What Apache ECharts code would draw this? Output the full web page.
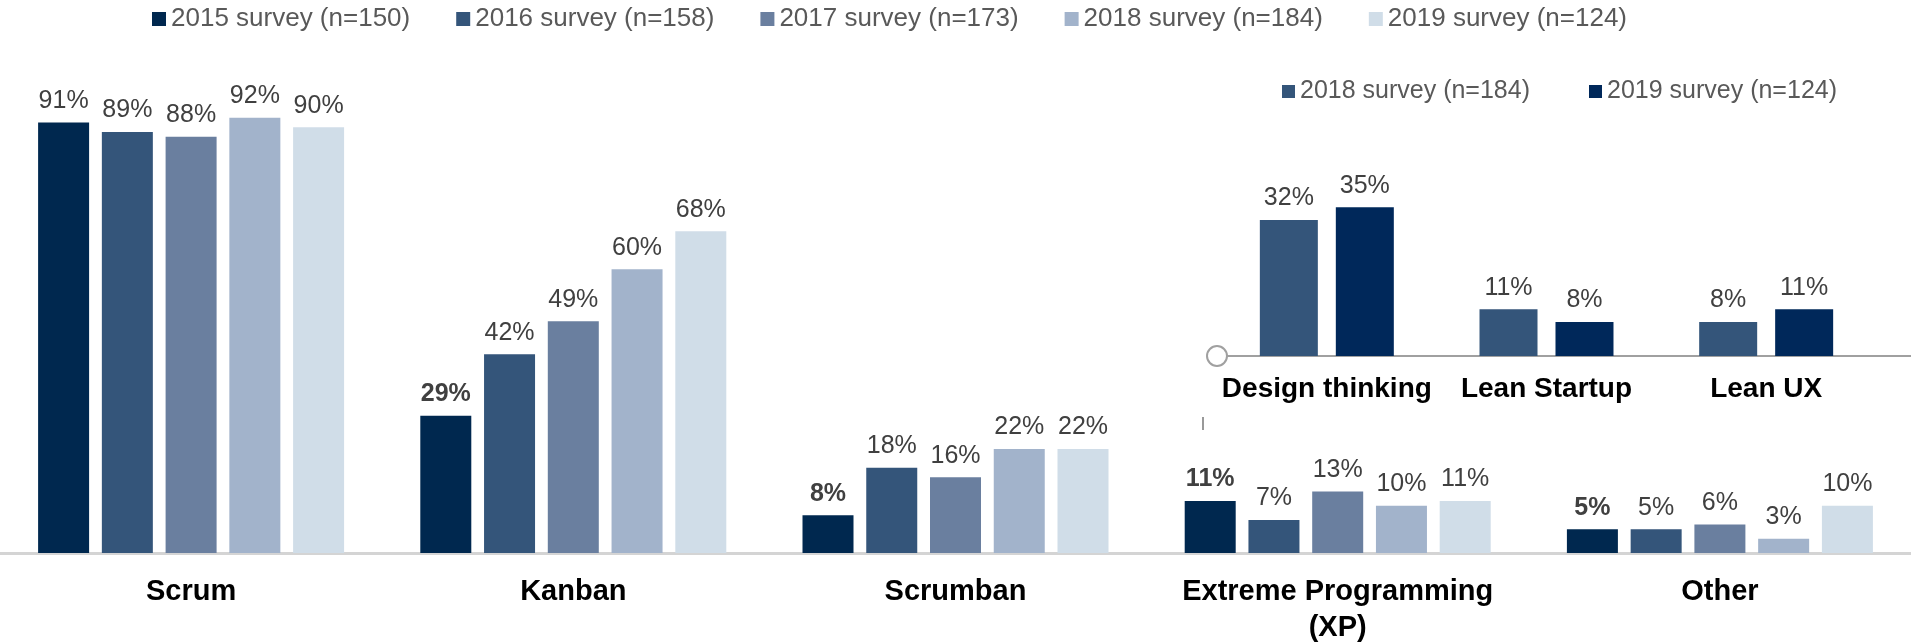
<!DOCTYPE html>
<html>
<head>
<meta charset="utf-8">
<script src="https://cdn.jsdelivr.net/npm/echarts@6/dist/echarts.min.js"></script>
<style>
  html, body { margin: 0; padding: 0; background: #fff; }
  #main { width: 1911px; height: 642px; }
</style>
</head>
<body>
<div id="main"></div>
<script>
// main chart data
var categories = ['Scrum', 'Kanban', 'Scrumban', 'Extreme Programming\n(XP)', 'Other'];
var surveys = ['2015 survey (n=150)', '2016 survey (n=158)', '2017 survey (n=173)', '2018 survey (n=184)', '2019 survey (n=124)'];
var s2015 = [91, 29, 8, 11, 5];
var s2016 = [89, 42, 18, 7, 5];
var s2017 = [88, 49, 16, 13, 6];
var s2018 = [92, 60, 22, 10, 3];
var s2019 = [90, 68, 22, 11, 10];

// inset chart data
var insetCategories = ['Design thinking', 'Lean Startup', 'Lean UX'];
var insetSurveys = ['2018 survey (n=184)', '2019 survey (n=124)'];
var inset2018 = [32, 11, 8];
var inset2019 = [35, 8, 11];

var colors = ['#00284f', '#34557a', '#6a7f9f', '#a2b3cb', '#d0dde8'];
var insetColors = ['#34557a', '#00285a'];
var FONT = '"Liberation Sans", Arial, sans-serif';

var chart = echarts.init(document.getElementById('main'));

var mainValues = [s2015, s2016, s2017, s2018, s2019];
var series = mainValues.map(function (vals, i) {
    return {
        name: surveys[i],
        type: 'bar',
        xAxisIndex: 0,
        yAxisIndex: 0,
        barWidth: 51,
        barGap: '25%',
        itemStyle: { color: colors[i] },
        label: {
            show: true,
            position: 'top',
            distance: 9,
            formatter: '{c}%',
            fontFamily: FONT,
            fontSize: 25,
            color: '#404040'
        },
        // 2015 labels are bold except in the first group
        data: vals.map(function (v, j) {
            if (i === 0 && j > 0) {
                return { value: v, label: { fontWeight: 'bold' } };
            }
            return v;
        })
    };
});

var insetValues = [inset2018, inset2019];
insetValues.forEach(function (vals, i) {
    series.push({
        name: 'inset ' + insetSurveys[i],
        type: 'bar',
        xAxisIndex: 1,
        yAxisIndex: 1,
        barWidth: 58,
        barGap: '31%',
        itemStyle: { color: insetColors[i] },
        label: {
            show: true,
            position: 'top',
            distance: 9,
            formatter: '{c}%',
            fontFamily: FONT,
            fontSize: 25,
            color: '#404040'
        },
        data: vals
    });
});

chart.setOption({
    animation: false,
    legend: [
        {
            data: surveys,
            left: 147,
            top: 1,
            itemWidth: 14,
            itemHeight: 14,
            itemGap: 46,
            icon: 'rect',
            textStyle: { fontFamily: FONT, fontSize: 26, color: '#595959' }
        },
        {
            data: insetSurveys.map(function (n) { return 'inset ' + n; }),
            left: 1277,
            top: 74,
            itemWidth: 13,
            itemHeight: 13,
            itemGap: 59,
            icon: 'rect',
            formatter: function (name) { return name.replace('inset ', ''); },
            textStyle: { fontFamily: FONT, fontSize: 25, color: '#595959' }
        }
    ],
    grid: [
        { left: 0, right: 0, top: 80, bottom: 89, outerBoundsMode: 'none' },
        { left: 1217, right: 35, top: 186, bottom: 286, outerBoundsMode: 'none' }
    ],
    xAxis: [
        {
            type: 'category',
            gridIndex: 0,
            data: categories,
            axisTick: { show: false },
            axisLine: { lineStyle: { color: '#d4d4d4', width: 3 } },
            axisLabel: {
                interval: 0,
                margin: 21,
                fontFamily: FONT,
                fontSize: 29,
                fontWeight: 'bold',
                color: '#000',
                lineHeight: 36
            }
        },
        {
            type: 'category',
            gridIndex: 1,
            data: insetCategories,
            axisTick: { show: false },
            axisLine: {
                symbol: ['emptyCircle', 'none'],
                symbolSize: [20, 20],
                lineStyle: { color: '#a0a0a0', width: 2 }
            },
            axisLabel: {
                interval: 0,
                margin: 19,
                fontFamily: FONT,
                fontSize: 28,
                fontWeight: 'bold',
                color: '#000'
            }
        }
    ],
    yAxis: [
        { type: 'value', gridIndex: 0, min: 0, max: 100, show: false, splitLine: { show: false } },
        { type: 'value', gridIndex: 1, min: 0, max: 40, show: false, splitLine: { show: false } }
    ],
    graphic: [
        // inset axis runs on to the right edge
        {
            type: 'line',
            shape: { x1: 1876, y1: 356, x2: 1911, y2: 356 },
            style: { stroke: '#a0a0a0', lineWidth: 2 }
        },
        {
            type: 'line',
            shape: { x1: 1203, y1: 417, x2: 1203, y2: 430 },
            style: { stroke: '#777', lineWidth: 1.5 }
        }
    ],
    series: series
});
</script>
</body>
</html>
